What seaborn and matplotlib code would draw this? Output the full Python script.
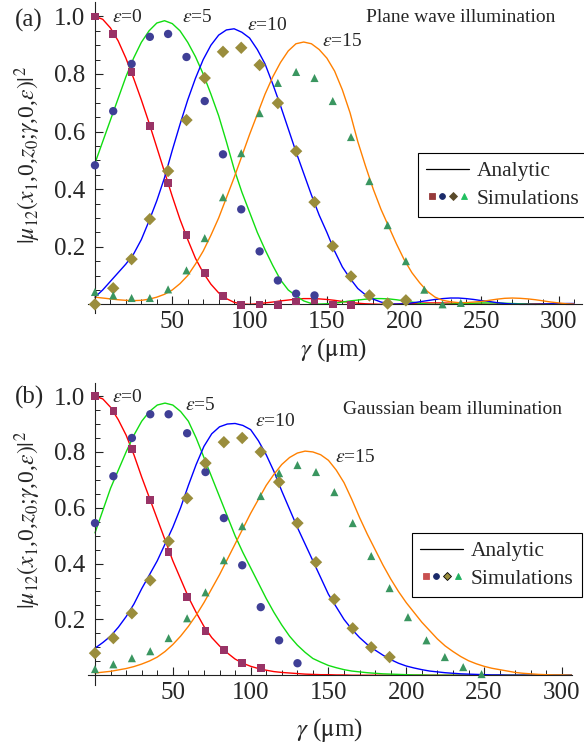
import matplotlib
matplotlib.use("Agg")
import matplotlib.pyplot as plt
import seaborn as sns
import pandas as pd
from matplotlib.lines import Line2D
from matplotlib.legend_handler import HandlerTuple

sns.set_style("ticks")
plt.rcParams["font.family"] = ["Liberation Serif", "DejaVu Serif"]
plt.rcParams["mathtext.fontset"] = "stix"

# ---- data ----
gamma_curve = [0, 5, 10, 15, 20, 25, 30, 35, 40, 45,
               50, 55, 60, 65, 70, 75, 80, 85, 90, 95,
               100, 105, 110, 115, 120, 125, 130, 135, 140, 145,
               150, 155, 160, 165, 170, 175, 180, 185, 190, 195,
               200, 205, 210, 215, 220, 225, 230, 235, 240, 245,
               250, 255, 260, 265, 270, 275, 280, 285, 290, 295,
               300, 305, 310]
gamma_sim = [0.0, 11.8, 23.7, 35.5, 47.3, 59.2, 71.0, 82.8, 94.6, 106.5, 118.3,
             130.1, 142.0, 153.8, 165.6, 177.5, 189.3, 201.1, 213.0, 224.8, 236.6, 248.4]
eps_values = ["0", "5", "10", "15"]

# (a) plane wave, analytic
red_a = [1.0, 0.99, 0.96, 0.915, 0.855, 0.785, 0.71, 0.63, 0.545, 0.46,
         0.375, 0.295, 0.225, 0.16, 0.11, 0.07, 0.04, 0.02, 0.007, 0.001,
         0.0, 0.002, 0.005, 0.008, 0.012, 0.015, 0.018, 0.02, 0.02, 0.019,
         0.017, 0.014, 0.01, 0.007, 0.004, 0.002, 0.001, 0.0, 0.0, 0.001,
         0.002, 0.003, 0.004, 0.005, 0.005, 0.005, 0.004, 0.003, 0.003, 0.002,
         0.001, 0.0, 0.001, 0.001, 0.002, 0.002, 0.002, 0.002, 0.002, 0.001,
         0.001, 0.0, 0.0]
green_a = [0.49, 0.565, 0.64, 0.715, 0.79, 0.855, 0.91, 0.95, 0.977, 0.985,
           0.975, 0.95, 0.91, 0.86, 0.80, 0.73, 0.655, 0.565, 0.47, 0.39,
           0.32, 0.25, 0.19, 0.135, 0.085, 0.05, 0.03, 0.012, 0.003, 0.001,
           0.002, 0.004, 0.008, 0.012, 0.015, 0.018, 0.02, 0.02, 0.019, 0.016,
           0.012, 0.008, 0.004, 0.001, 0.0, 0.0, 0.001, 0.002, 0.003, 0.004,
           0.005, 0.005, 0.005, 0.004, 0.003, 0.002, 0.001, 0.0, 0.0, 0.001,
           0.001, 0.002, 0.002]
blue_a = [0.025, 0.05, 0.08, 0.11, 0.14, 0.175, 0.225, 0.29, 0.36, 0.44,
          0.535, 0.625, 0.71, 0.785, 0.85, 0.9, 0.935, 0.953, 0.957, 0.945,
          0.925, 0.885, 0.835, 0.765, 0.69, 0.61, 0.53, 0.455, 0.38, 0.31,
          0.25, 0.185, 0.13, 0.09, 0.055, 0.033, 0.018, 0.008, 0.002, 0.001,
          0.002, 0.005, 0.009, 0.013, 0.017, 0.02, 0.022, 0.022, 0.02, 0.017,
          0.013, 0.01, 0.006, 0.003, 0.001, 0.0, 0.0, 0.0, 0.001, 0.002,
          0.002, 0.003, 0.003]
orange_a = [0.025, 0.022, 0.019, 0.016, 0.014, 0.013, 0.014, 0.018, 0.025, 0.035,
            0.05, 0.072, 0.10, 0.14, 0.185, 0.24, 0.30, 0.37, 0.44, 0.515,
            0.59, 0.66, 0.73, 0.79, 0.84, 0.88, 0.905, 0.911, 0.905, 0.885,
            0.855, 0.81, 0.745, 0.665, 0.565, 0.48, 0.40, 0.33, 0.27, 0.21,
            0.155, 0.11, 0.075, 0.045, 0.025, 0.014, 0.009, 0.006, 0.006, 0.008,
            0.01, 0.014, 0.018, 0.021, 0.022, 0.021, 0.019, 0.016, 0.012, 0.008,
            0.005, 0.002, 0.001]
# (a) simulations
sq_a = [1.0, 0.939, 0.807, 0.619, 0.421, 0.240, 0.108, 0.028, -0.003, 0.0, -0.002, 0.01, 0.014, 0.0, -0.002]
ci_a = [0.483, 0.671, 0.835, 0.929, 0.939, 0.859, 0.706, 0.521, 0.330, 0.184, 0.083, 0.037, 0.031]
di_a = [0.0, 0.056, 0.157, 0.296, 0.463, 0.640, 0.786, 0.877, 0.891, 0.831, 0.699, 0.532, 0.355, 0.202,
        0.097, 0.031, 0.003, 0.014]
tr_a = [0.043, 0.031, 0.022, 0.022, 0.052, 0.118, 0.23, 0.372, 0.525, 0.664, 0.769, 0.807, 0.786, 0.706,
        0.581, 0.428, 0.275, 0.15, 0.051, 0.0, 0.005]

# (b) gaussian beam, analytic
red_b = [1.0, 0.99, 0.96, 0.915, 0.86, 0.79, 0.71, 0.635, 0.56, 0.485,
         0.41, 0.345, 0.28, 0.225, 0.175, 0.135, 0.105, 0.08, 0.058, 0.043,
         0.032, 0.024, 0.018, 0.013, 0.01, 0.008, 0.006, 0.004, 0.003, 0.002,
         0.002, 0.001, 0.001, 0.0, 0.0, 0.0, 0.0, 0.0, 0.0, 0.0,
         0.0, 0.0, 0.0, 0.0, 0.0, 0.0, 0.0, 0.0, 0.0, 0.0,
         0.0, 0.0, 0.0, 0.0, 0.0, 0.0, 0.0, 0.0, 0.0, 0.0,
         0.0, 0.0, 0.0]
green_b = [0.51, 0.59, 0.67, 0.735, 0.80, 0.86, 0.91, 0.945, 0.968, 0.975,
           0.968, 0.945, 0.91, 0.85, 0.78, 0.71, 0.64, 0.57, 0.50, 0.44,
           0.385, 0.33, 0.275, 0.225, 0.18, 0.14, 0.108, 0.082, 0.06, 0.047,
           0.035, 0.027, 0.02, 0.015, 0.012, 0.009, 0.007, 0.005, 0.004, 0.003,
           0.002, 0.001, 0.001, 0.0, 0.0, 0.0, 0.0, 0.0, 0.0, 0.0,
           0.0, 0.0, 0.0, 0.0, 0.0, 0.0, 0.0, 0.0, 0.0, 0.0,
           0.0, 0.0, 0.0]
blue_b = [0.097, 0.117, 0.14, 0.172, 0.21, 0.255, 0.31, 0.36, 0.41, 0.47,
          0.53, 0.60, 0.68, 0.755, 0.82, 0.865, 0.89, 0.90, 0.902, 0.895,
          0.88, 0.84, 0.79, 0.73, 0.66, 0.595, 0.53, 0.47, 0.41, 0.35,
          0.29, 0.245, 0.20, 0.165, 0.135, 0.11, 0.09, 0.072, 0.056, 0.043,
          0.033, 0.026, 0.02, 0.015, 0.012, 0.009, 0.007, 0.005, 0.004, 0.003,
          0.002, 0.001, 0.001, 0.0, 0.0, 0.0, 0.0, 0.0, 0.0, 0.0,
          0.0, 0.0, 0.0]
orange_b = [0.008, 0.011, 0.014, 0.019, 0.024, 0.031, 0.04, 0.051, 0.065, 0.085,
            0.11, 0.14, 0.175, 0.215, 0.26, 0.31, 0.36, 0.415, 0.47, 0.525,
            0.58, 0.63, 0.68, 0.72, 0.755, 0.78, 0.796, 0.803, 0.80, 0.79,
            0.77, 0.735, 0.69, 0.63, 0.565, 0.505, 0.45, 0.395, 0.345, 0.30,
            0.26, 0.225, 0.19, 0.16, 0.13, 0.105, 0.085, 0.067, 0.052, 0.041,
            0.032, 0.025, 0.02, 0.015, 0.01, 0.007, 0.005, 0.003, 0.002, 0.001,
            0.001, 0.0, 0.0]
# (b) simulations
sq_b = [1.0, 0.946, 0.81, 0.627, 0.441, 0.280, 0.158, 0.09, 0.043, 0.025]
ci_b = [0.545, 0.713, 0.85, 0.935, 0.935, 0.867, 0.728, 0.563, 0.394, 0.244, 0.125, 0.043]
di_b = [0.079, 0.133, 0.222, 0.34, 0.48, 0.634, 0.76, 0.835, 0.85, 0.80, 0.692, 0.545, 0.405, 0.272,
        0.168, 0.1, 0.065]
tr_b = [0.022, 0.039, 0.061, 0.086, 0.133, 0.204, 0.297, 0.412, 0.534, 0.642, 0.724, 0.753, 0.728, 0.656,
        0.545, 0.427, 0.312, 0.208, 0.125, 0.065, 0.029, 0.004]

xtick_vals = [50, 100, 150, 200, 250, 300]
ytick_vals = [0.2, 0.4, 0.6, 0.8, 1.0]
ytick_labels = ["0.2", "0.4", "0.6", "0.8", "1.0"]

# ---- styles ----
line_colors = ["#ff0000", "#11dd11", "#0000ff", "#ff8000"]
marker_colors = ["#993366", "#3f3f96", "#9a8d3c", "#3a9660"]
marker_shapes = ["s", "o", "D", "^"]
marker_sizes = [30, 36, 40, 34]
axis_color = "#222222"

W, H = 584, 743
fig = plt.figure(figsize=(W / 100, H / 100), dpi=100)


def fx(px):
    return px / W


def fy(py):
    return 1 - py / H


def draw_panel(ax, curves, sims, xlim, ylim):
    frames = [pd.DataFrame({"gamma": gamma_curve, "mu": c, "eps": e})
              for c, e in zip(curves, eps_values)]
    df = pd.concat(frames, ignore_index=True)
    sns.lineplot(data=df, x="gamma", y="mu", hue="eps", palette=line_colors,
                 errorbar=None, legend=False, lw=1.0, ax=ax, zorder=2)
    for vals, m, c, s in zip(sims, marker_shapes, marker_colors, marker_sizes):
        sns.scatterplot(x=gamma_sim[:len(vals)], y=vals, marker=m, color=c, s=s,
                        edgecolor="none", ax=ax, zorder=3, clip_on=False)

    ax.set_xlim(*xlim)
    ax.set_ylim(*ylim)
    ax.spines["left"].set_position(("data", 0))
    ax.spines["bottom"].set_position(("data", 0))
    ax.spines[["top", "right"]].set_visible(False)
    for sp in ("left", "bottom"):
        ax.spines[sp].set_color(axis_color)
        ax.spines[sp].set_linewidth(0.8)
    ax.set_xticks(xtick_vals, labels=[str(v) for v in xtick_vals])
    ax.set_xticks([v for v in range(10, int(xlim[1]) + 1, 10) if v % 50], minor=True)
    ax.set_yticks(ytick_vals, labels=ytick_labels)
    ax.set_yticks([0.05, 0.1, 0.15, 0.25, 0.3, 0.35, 0.45, 0.5, 0.55, 0.65, 0.7, 0.75,
                   0.85, 0.9, 0.95], minor=True)
    ax.tick_params(which="major", direction="in", length=6, width=0.8, color=axis_color,
                   labelsize=18)
    ax.tick_params(which="minor", direction="in", length=3.5, width=0.7, color=axis_color)
    ax.tick_params(axis="x", which="major", pad=5)
    ax.tick_params(axis="y", which="major", pad=7)
    ax.set_xlabel("")
    ax.set_ylabel("")
    ax.patch.set_alpha(0)


def add_legend(ax, anchor, sim_colors, diamond_edge):
    line_h = Line2D([], [], color="black", lw=0.9)
    mk = []
    for m, c in zip(marker_shapes, sim_colors):
        ms = 4.2 if m != "D" else 4.0
        mec = diamond_edge if m == "D" else c
        mk.append(Line2D([], [], ls="none", marker=m, color=c, markersize=ms,
                         markeredgecolor=mec, markeredgewidth=0.6))
    leg = ax.legend([line_h, tuple(mk)], ["Analytic", "Simulations"],
                    handler_map={tuple: HandlerTuple(ndivide=None, pad=0.0)},
                    loc="upper left", bbox_to_anchor=anchor, bbox_transform=fig.transFigure,
                    fontsize=15.5, frameon=True, fancybox=False, framealpha=1,
                    edgecolor="black", handlelength=2.0, handletextpad=0.35,
                    borderpad=0.38, labelspacing=0.35, borderaxespad=0)
    leg.get_frame().set_linewidth(0.8)


ylabel = r"$|\mu_{12}(x_1$,0,$z_0$;$\gamma$,0,$\varepsilon)|^2$"
xlabel = r"$\gamma$ ($\mathrm{\mu}$m)"

# ---- panel (a) ----
ax_a = fig.add_axes([fx(88), fy(313), fx(494), 311 / H])
draw_panel(ax_a, [red_a, green_a, blue_a, orange_a], [sq_a, ci_a, di_a, tr_a],
           (-4.5, 315), (-0.03, 1.05))
add_legend(ax_a, (fx(418), fy(153)), ["#963a3a", "#1a2a6a", "#5a4a2a", "#20c060"], "#5a4a2a")

# ---- panel (b) ----
ax_b = fig.add_axes([fx(88), fy(685), fx(484), 302 / H])
draw_panel(ax_b, [red_b, green_b, blue_b, orange_b], [sq_b, ci_b, di_b, tr_b],
           (-4.5, 306.5), (-0.035, 1.047))
add_legend(ax_b, (fx(412), fy(533)), ["#c85050", "#1a2a6a", "#9a8d3c", "#20b060"], "black")

# ---- texts ----
eps_txt = r"$\varepsilon$="
fig.text(fx(15), fy(20), "(a)", fontsize=18, va="center", ha="left")
fig.text(fx(112), fy(18), eps_txt + "0", fontsize=14, va="center", ha="left")
fig.text(fx(182), fy(17), eps_txt + "5", fontsize=14, va="center", ha="left")
fig.text(fx(247), fy(26), eps_txt + "10", fontsize=14, va="center", ha="left")
fig.text(fx(322), fy(42), eps_txt + "15", fontsize=14, va="center", ha="left")
fig.text(fx(366), fy(17), "Plane wave illumination", fontsize=14, va="center", ha="left")
fig.text(fx(28), fy(155), ylabel, fontsize=17, rotation=90, va="center", ha="center")
fig.text(fx(333), fy(350), xlabel, fontsize=18, va="center", ha="center")

fig.text(fx(15), fy(397), "(b)", fontsize=18, va="center", ha="left")
fig.text(fx(112), fy(397), eps_txt + "0", fontsize=14, va="center", ha="left")
fig.text(fx(185), fy(405), eps_txt + "5", fontsize=14, va="center", ha="left")
fig.text(fx(255), fy(422), eps_txt + "10", fontsize=14, va="center", ha="left")
fig.text(fx(335), fy(457), eps_txt + "15", fontsize=14, va="center", ha="left")
fig.text(fx(343), fy(409), "Gaussian beam illumination", fontsize=14, va="center", ha="left")
fig.text(fx(28), fy(520), ylabel, fontsize=17, rotation=90, va="center", ha="center")
fig.text(fx(329), fy(730), xlabel, fontsize=18, va="center", ha="center")

fig.savefig("out.png", dpi=100)
